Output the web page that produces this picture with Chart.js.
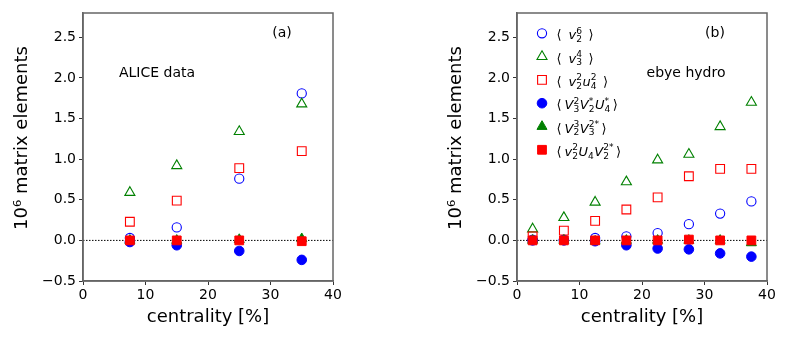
<!DOCTYPE html>
<html><head><meta charset="utf-8">
<script src="https://cdn.jsdelivr.net/npm/chart.js@4/dist/chart.umd.min.js"></script>
<style>
html,body{margin:0;padding:0;background:#fff;width:789px;height:337px;overflow:hidden}
.wrap{position:absolute;top:0;width:355px;height:337px}
canvas{display:block}
</style></head><body>
<div class="wrap" style="left:0px"><canvas id="c1" width="355" height="337"></canvas></div>
<div class="wrap" style="left:434px"><canvas id="c2" width="355" height="337"></canvas></div>
<script>
// ---- data ----
const xTickLabels = [0, 10, 20, 30, 40];
const yTickLabels = [-0.5, 0.0, 0.5, 1.0, 1.5, 2.0, 2.5];

const centralityA = [7.5, 15, 25, 35];
const aliceV2pow6 = [0.03, 0.16, 0.76, 1.81];
const aliceV3pow4 = [0.59, 0.92, 1.34, 1.68];
const aliceV2sqU4sq = [0.23, 0.49, 0.89, 1.10];
const aliceV3V2U4 = [-0.02, -0.06, -0.13, -0.24];
const aliceV2cubV3 = [0.0, 0.0, 0.01, 0.02];
const aliceV2U4V2 = [0.0, 0.0, 0.0, -0.01];

const centralityB = [2.5, 7.5, 12.5, 17.5, 22.5, 27.5, 32.5, 37.5];
const hydroV2pow6 = [0.01, 0.01, 0.03, 0.05, 0.09, 0.20, 0.33, 0.48];
const hydroV3pow4 = [0.14, 0.28, 0.47, 0.72, 0.99, 1.06, 1.40, 1.70];
const hydroV2sqU4sq = [0.05, 0.12, 0.24, 0.38, 0.53, 0.79, 0.88, 0.88];
const hydroV3V2U4 = [0.0, 0.0, -0.01, -0.06, -0.10, -0.11, -0.16, -0.20];
const hydroV2cubV3 = [0.0, 0.0, -0.01, 0.0, 0.0, 0.0, 0.0, -0.03];
const hydroV2U4V2 = [0.0, 0.0, 0.0, 0.0, 0.0, 0.01, 0.0, 0.0];

// legend labels as math pieces
const legendLabels = [
  [{t:'⟨'},{g:7},{v:'v',sup:'6',sub:'2'},{g:6},{t:'⟩'}],
  [{t:'⟨'},{g:7},{v:'v',sup:'4',sub:'3'},{g:6},{t:'⟩'}],
  [{t:'⟨'},{g:7},{v:'v',sup:'2',sub:'2'},{v:'u',sup:'2',sub:'4'},{g:6},{t:'⟩'}],
  [{t:'⟨'},{g:3},{v:'V',sup:'2',sub:'3'},{v:'V',sup:'*',sub:'2'},{v:'U',sup:'*',sub:'4'},{g:2},{t:'⟩'}],
  [{t:'⟨'},{g:3},{v:'V',sup:'3',sub:'2'},{v:'V',sup:'2*',sub:'3'},{g:2},{t:'⟩'}],
  [{t:'⟨'},{g:3},{v:'v',sup:'2',sub:'2'},{v:'U',sub:'4'},{v:'V',sup:'2*',sub:'2'},{g:2},{t:'⟩'}]
];

const FONT = '"DejaVu Sans", Verdana, sans-serif';
const BLUE = '#0000ff', GREEN = '#008000', RED = '#ff0000';

function pts(xs, ys){ return xs.map((x,i)=>({x:x, y:ys[i]})); }

function makeDatasets(xs, s){
  const common = {showLine:false, pointHoverRadius:0};
  return [
    {label:'zero', type:'line', data:[{x:0,y:0},{x:40,y:0}], borderColor:'#000', borderWidth:1, borderDash:[1.5,1.5], pointRadius:0, order:10, fill:false, isZero:true},
    Object.assign({}, common, {data:pts(xs,s[0]), pointStyle:'circle', pointRadius:4.6, borderColor:BLUE, backgroundColor:'rgba(0,0,0,0)', pointBorderWidth:1.1, order:6}),
    Object.assign({}, common, {data:pts(xs,s[1]), pointStyle:'triangle', pointRadius:5.8, borderColor:GREEN, backgroundColor:'rgba(0,0,0,0)', pointBorderWidth:1.1, order:5}),
    Object.assign({}, common, {data:pts(xs,s[2]), pointStyle:'rect', pointRadius:6.2, borderColor:RED, backgroundColor:'rgba(0,0,0,0)', pointBorderWidth:1.1, order:4}),
    Object.assign({}, common, {data:pts(xs,s[3]), pointStyle:'circle', pointRadius:4.8, borderColor:BLUE, backgroundColor:BLUE, pointBorderWidth:1, order:3}),
    Object.assign({}, common, {data:pts(xs,s[4]), pointStyle:'triangle', pointRadius:5.8, borderColor:GREEN, backgroundColor:GREEN, pointBorderWidth:1, order:2}),
    Object.assign({}, common, {data:pts(xs,s[5]), pointStyle:'rect', pointRadius:6.2, borderColor:RED, backgroundColor:RED, pointBorderWidth:1, order:1})
  ];
}

function drawMarker(ctx, style, r, x, y, fill, stroke, lw){
  ctx.save();
  ctx.beginPath();
  if (style === 'circle') ctx.arc(x, y, r, 0, Math.PI*2);
  else if (style === 'triangle') {
    let a = 0;
    ctx.moveTo(x + Math.sin(a)*r, y - Math.cos(a)*r);
    a += 2*Math.PI/3; ctx.lineTo(x + Math.sin(a)*r, y - Math.cos(a)*r);
    a += 2*Math.PI/3; ctx.lineTo(x + Math.sin(a)*r, y - Math.cos(a)*r);
    ctx.closePath();
  } else { const h = Math.SQRT1_2*r; ctx.rect(x-h, y-h, 2*h, 2*h); }
  ctx.fillStyle = fill; ctx.fill();
  ctx.lineWidth = lw; ctx.strokeStyle = stroke; ctx.stroke();
  ctx.restore();
}

function drawMath(ctx, x, y, parts, size){
  let cx = x;
  const ss = size*0.7;
  ctx.textAlign = 'left'; ctx.textBaseline = 'alphabetic'; ctx.fillStyle = '#000';
  for (const p of parts){
    if (p.g !== undefined){ cx += p.g; continue; }
    if (p.t){ ctx.font = size + 'px ' + FONT; ctx.fillText(p.t, cx, y); cx += ctx.measureText(p.t).width; continue; }
    ctx.font = 'italic ' + size + 'px ' + FONT;
    ctx.fillText(p.v, cx, y); cx += ctx.measureText(p.v).width;
    let w = 0;
    ctx.font = ss + 'px ' + FONT;
    if (p.sup){ ctx.fillText(p.sup, cx, y - size*0.42); w = Math.max(w, ctx.measureText(p.sup).width); }
    if (p.sub){ ctx.fillText(p.sub, cx, y + size*0.22); w = Math.max(w, ctx.measureText(p.sub).width); }
    cx += w + 0.5;
  }
}

const framePlugin = {
  id:'frame',
  afterDraw(chart){
    const a = chart.chartArea, ctx = chart.ctx;
    ctx.save(); ctx.strokeStyle = '#666'; ctx.lineWidth = 1.5;
    ctx.strokeRect(a.left, a.top, a.right - a.left, a.bottom - a.top);
    ctx.restore();
  }
};

const textPlugin = {
  id:'panelText',
  afterDraw(chart, args, opts){
    const ctx = chart.ctx;
    ctx.save();
    ctx.fillStyle = '#000'; ctx.font = '14px ' + FONT; ctx.textAlign = 'center'; ctx.textBaseline = 'middle';
    (opts.items || []).forEach(it => ctx.fillText(it.text, it.x, it.y));
    if (opts.legend){
      const ds = chart.data.datasets.filter(d => !d.isZero);
      ds.forEach((d, i) => {
        const y = 33.3 + 23.3*i;
        drawMarker(ctx, d.pointStyle, d.pointRadius, 108, y, d.backgroundColor, d.borderColor, d.pointBorderWidth);
        drawMath(ctx, 122.5, y + 6, legendLabels[i], 13);
      });
    }
    ctx.restore();
  }
};

function fmtY(v){
  const s = Number(v).toFixed(1);
  return s.replace('-', '\u2212');
}

function makeChart(id, xs, series, items, legend){
  return new Chart(document.getElementById(id), {
    type:'scatter',
    data:{datasets: makeDatasets(xs, series)},
    plugins:[framePlugin, textPlugin],
    options:{
      responsive:false, animation:false, events:[],
      layout:{padding:{left:0, right:22, top:13, bottom:0}},
      plugins:{legend:{display:false}, tooltip:{enabled:false}, panelText:{items:items, legend:legend}},
      scales:{
        x:{type:'linear', min:0, max:40,
          afterBuildTicks: s => { s.ticks = xTickLabels.map(v => ({value:v})); },
          afterFit: s => { s.height = 56; },
          ticks:{font:{family:FONT, size:14}, color:'#000', padding:2, maxRotation:0, autoSkip:false},
          grid:{drawOnChartArea:false, drawTicks:true, tickLength:4, color:'#333', tickWidth:1},
          border:{display:true, color:'#666', width:1.5},
          title:{display:true, text:'centrality [%]', color:'#000', font:{family:FONT, size:18}, padding:{top:0, bottom:9}}
        },
        y:{type:'linear', min:-0.5, max:2.8,
          afterBuildTicks: s => { s.ticks = yTickLabels.map(v => ({value:v})); },
          afterFit: s => { s.width = 83; },
          ticks:{font:{family:FONT, size:14}, color:'#000', padding:3, autoSkip:false, callback: v => fmtY(v)},
          grid:{drawOnChartArea:false, drawTicks:true, tickLength:4, color:'#333', tickWidth:1},
          border:{display:true, color:'#666', width:1.5},
          title:{display:true, text:'\u2002\u200210\u2076 matrix elements', color:'#000', font:{family:FONT, size:18}, padding:{top:12, bottom:0}}
        }
      }
    }
  });
}

makeChart('c1', centralityA,
  [aliceV2pow6, aliceV3pow4, aliceV2sqU4sq, aliceV3V2U4, aliceV2cubV3, aliceV2U4V2],
  [{text:'(a)', x:282, y:33}, {text:'ALICE data', x:157, y:73}], false);
makeChart('c2', centralityB,
  [hydroV2pow6, hydroV3pow4, hydroV2sqU4sq, hydroV3V2U4, hydroV2cubV3, hydroV2U4V2],
  [{text:'(b)', x:281, y:33}, {text:'ebye hydro', x:252, y:73}], true);
</script>
</body></html>
